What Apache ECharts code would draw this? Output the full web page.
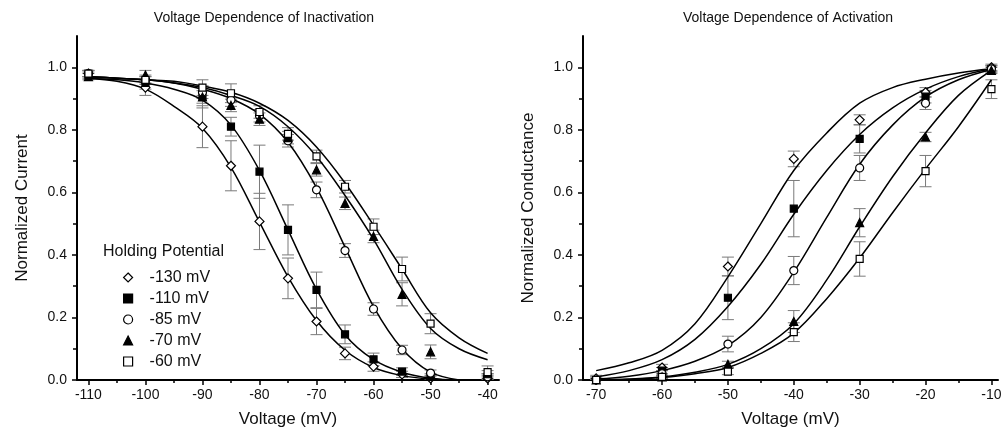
<!DOCTYPE html>
<html>
<head>
<meta charset="utf-8">
<script src="https://cdn.jsdelivr.net/npm/echarts@6/dist/echarts.min.js"></script>
<style>
  html, body { margin: 0; padding: 0; background: #fff; }
  #chart { width: 1005px; height: 435px; }
</style>
</head>
<body>
<div id="chart"></div>
<script>
// legend names (holding potentials)
const holdNames = ['-130 mV', '-110 mV', '-85 mV', '-70 mV', '-60 mV'];

// inactivation data (left panel)
const inactV = [-110, -100, -90, -85, -80, -75, -70, -65, -60, -55, -50, -40];
const inact130 = [0.98, 0.935, 0.81, 0.685, 0.507, 0.325, 0.187, 0.085, 0.043, 0.018, 0.005, 0.005];
const inact130Err = [0.01, 0.025, 0.067, 0.08, 0.09, 0.065, 0.042, 0.02, 0.015, 0.01, 0.01, 0.01];
const inact110 = [0.975, 0.95, 0.905, 0.81, 0.666, 0.48, 0.288, 0.146, 0.066, 0.027, 0.01, 0.01];
const inact110Err = [0.01, 0.02, 0.035, 0.03, 0.085, 0.08, 0.057, 0.03, 0.02, 0.012, 0.01, 0.01];
const inact85 = [0.98, 0.96, 0.92, 0.895, 0.845, 0.765, 0.608, 0.414, 0.227, 0.096, 0.022, 0.01];
const inact85Err = [0.01, 0.015, 0.02, 0.02, 0.02, 0.02, 0.025, 0.022, 0.02, 0.015, 0.01, 0.01];
const inact70 = [0.97, 0.975, 0.905, 0.878, 0.834, 0.775, 0.672, 0.565, 0.459, 0.274, 0.09, 0.02];
const inact70Err = [0.01, 0.015, 0.02, 0.02, 0.02, 0.02, 0.02, 0.02, 0.02, 0.037, 0.022, 0.01];
const inact60 = [0.98, 0.96, 0.935, 0.917, 0.857, 0.787, 0.715, 0.618, 0.49, 0.355, 0.18, 0.025];
const inact60Err = [0.01, 0.01, 0.025, 0.03, 0.02, 0.02, 0.02, 0.02, 0.025, 0.038, 0.032, 0.02];

// fitted curves, every 5 mV from -110
const fitInactV = [-110, -105, -100, -95, -90, -85, -80, -75, -70, -65, -60, -55, -50, -45, -40];
const fitInact130 = [0.965, 0.955, 0.93, 0.875, 0.805, 0.68, 0.505, 0.33, 0.19, 0.095, 0.04, 0.014, 0.003, 0.0];
const fitInact110 = [0.965, 0.96, 0.95, 0.93, 0.895, 0.815, 0.67, 0.48, 0.29, 0.145, 0.065, 0.025, 0.006, 0.0];
const fitInact85 = [0.97, 0.965, 0.96, 0.95, 0.93, 0.9, 0.85, 0.76, 0.615, 0.425, 0.235, 0.1, 0.025, 0.0];
const fitInact70 = [0.97, 0.965, 0.96, 0.95, 0.935, 0.91, 0.875, 0.81, 0.715, 0.59, 0.45, 0.29, 0.165, 0.1, 0.065];
const fitInact60 = [0.97, 0.965, 0.96, 0.955, 0.94, 0.92, 0.885, 0.83, 0.745, 0.63, 0.495, 0.355, 0.215, 0.135, 0.085];

// activation data (right panel)
const actV = [-70, -60, -50, -40, -30, -20, -10];
const act130 = [0.005, 0.04, 0.363, 0.707, 0.832, 0.92, 1.0];
const act130Err = [0.01, 0.01, 0.03, 0.025, 0.016, 0.015, 0.01];
const act110 = [0.0, 0.03, 0.263, 0.548, 0.771, 0.906, 0.995];
const act110Err = [0.01, 0.01, 0.07, 0.09, 0.045, 0.02, 0.01];
const act85 = [0.0, 0.02, 0.115, 0.35, 0.678, 0.885, 0.995];
const act85Err = [0.01, 0.01, 0.025, 0.045, 0.04, 0.02, 0.01];
const act70 = [0.0, 0.01, 0.05, 0.187, 0.503, 0.777, 0.99];
const act70Err = [0.005, 0.005, 0.01, 0.035, 0.045, 0.015, 0.01];
const act60 = [0.0, 0.01, 0.027, 0.153, 0.387, 0.668, 0.93];
const act60Err = [0.005, 0.005, 0.01, 0.03, 0.055, 0.05, 0.03];

// fitted curves, every 5 mV from -70
const fitActV = [-70, -65, -60, -55, -50, -45, -40, -35, -30, -25, -20, -15, -10];
const fitAct130 = [0.03, 0.055, 0.095, 0.18, 0.33, 0.5, 0.67, 0.79, 0.885, 0.935, 0.962, 0.982, 0.995];
const fitAct110 = [0.01, 0.03, 0.065, 0.13, 0.235, 0.37, 0.53, 0.67, 0.785, 0.87, 0.93, 0.97, 0.995];
const fitAct85 = [0.003, 0.012, 0.03, 0.06, 0.11, 0.2, 0.345, 0.52, 0.69, 0.815, 0.905, 0.96, 0.993];
const fitAct70 = [0.0, 0.003, 0.01, 0.025, 0.05, 0.1, 0.18, 0.32, 0.49, 0.65, 0.79, 0.91, 0.99];
const fitAct60 = [0.0, 0.002, 0.008, 0.02, 0.04, 0.085, 0.15, 0.26, 0.39, 0.535, 0.675, 0.81, 0.96];

// tick labels
const inactTicks = [-110, -100, -90, -80, -70, -60, -50, -40];
const inactMinor = [-105, -95, -85, -75, -65, -55, -45];
const actTicks = [-70, -60, -50, -40, -30, -20, -10];
const actMinor = [-65, -55, -45, -35, -25, -15];
const yTicks = [0, 0.2, 0.4, 0.6, 0.8, 1.0];
const yMinor = [0.1, 0.3, 0.5, 0.7, 0.9];

const FONT = '"Liberation Sans", Arial, sans-serif';
const markers = [
  { symbol: 'diamond', size: 9, fill: '#fff' },
  { symbol: 'rect', size: 7, fill: '#000' },
  { symbol: 'circle', size: 8, fill: '#fff' },
  { symbol: 'triangle', size: 8, fill: '#000' },
  { symbol: 'rect', size: 7, fill: '#fff' }
];

var chart = echarts.init(document.getElementById('chart'));

function zip(xs, ys) {
  return ys.map(function (y, i) { return [xs[i], y]; });
}
function zipErr(xs, ys, es) {
  return ys.map(function (y, i) { return [xs[i], y, es[i]]; });
}

function errorBar(params, api) {
  var x = api.value(0), y = api.value(1), e = api.value(2);
  var hi = api.coord([x, y + e]);
  var lo = api.coord([x, Math.max(0, y - e)]);
  var w = 6;
  var st = { stroke: '#7a7a7a', lineWidth: 1 };
  return {
    type: 'group',
    children: [
      { type: 'line', shape: { x1: hi[0], y1: hi[1], x2: lo[0], y2: lo[1] }, style: st },
      { type: 'line', shape: { x1: hi[0] - w, y1: hi[1], x2: hi[0] + w, y2: hi[1] }, style: st },
      { type: 'line', shape: { x1: lo[0] - w, y1: lo[1], x2: lo[0] + w, y2: lo[1] }, style: st }
    ]
  };
}

function panelSeries(axis, xs, sets, errs, fitX, fits) {
  var out = [];
  sets.forEach(function (ys, i) {
    out.push({
      type: 'custom', name: 'err' + axis + i, xAxisIndex: axis, yAxisIndex: axis,
      renderItem: errorBar, data: zipErr(xs, ys, errs[i]), z: 1, clip: true, silent: true
    });
    out.push({
      type: 'line', name: 'fit' + axis + i, xAxisIndex: axis, yAxisIndex: axis,
      data: zip(fitX, fits[i]), showSymbol: false, smooth: 0.35,
      lineStyle: { color: '#000', width: 1.5 }, z: 2, silent: true
    });
    var m = markers[i];
    out.push({
      type: 'scatter', name: holdNames[i], xAxisIndex: axis, yAxisIndex: axis,
      data: zip(xs, ys), symbol: m.symbol, symbolSize: m.size,
      itemStyle: { color: m.fill, borderColor: '#000', borderWidth: 1.2, opacity: 1 }, z: 3
    });
  });
  return out;
}

var series = [].concat(
  panelSeries(0, inactV, [inact130, inact110, inact85, inact70, inact60],
    [inact130Err, inact110Err, inact85Err, inact70Err, inact60Err],
    fitInactV, [fitInact130, fitInact110, fitInact85, fitInact70, fitInact60]),
  panelSeries(1, actV, [act130, act110, act85, act70, act60],
    [act130Err, act110Err, act85Err, act70Err, act60Err],
    fitActV, [fitAct130, fitAct110, fitAct85, fitAct70, fitAct60])
);

var axisLine = { lineStyle: { color: '#000', width: 2 } };
var labelStyle = { color: '#111', fontSize: 14, fontFamily: FONT };
var nameStyle = { color: '#111', fontSize: 17, fontFamily: FONT };

function xMain(grid, min, max, ticks) {
  return {
    type: 'value', gridIndex: grid, min: min, max: max, position: 'bottom',
    axisLine: axisLine,
    axisTick: { customValues: ticks, length: 5, lineStyle: { color: '#000', width: 1.5 } },
    axisLabel: Object.assign({ customValues: ticks, margin: 8 }, labelStyle),
    splitLine: { show: false },
    name: 'Voltage (mV)', nameLocation: 'middle', nameGap: 31, nameTextStyle: nameStyle
  };
}
function xMinor(grid, min, max, ticks) {
  return {
    type: 'value', gridIndex: grid, min: min, max: max, position: 'bottom',
    axisLine: { show: false },
    axisTick: { customValues: ticks, length: 3, lineStyle: { color: '#000', width: 1.5 } },
    axisLabel: { show: false }, splitLine: { show: false }
  };
}
function yMain(grid, name) {
  return {
    type: 'value', gridIndex: grid, min: 0, max: 1.1, position: 'left',
    axisLine: axisLine,
    axisTick: { customValues: yTicks, length: 5, lineStyle: { color: '#000', width: 1.5 } },
    axisLabel: Object.assign({ customValues: yTicks, margin: 10, formatter: function (v) { return v.toFixed(1); } }, labelStyle),
    splitLine: { show: false },
    name: name, nameLocation: 'middle', nameGap: 46, nameTextStyle: nameStyle
  };
}
function yMinorAxis(grid) {
  return {
    type: 'value', gridIndex: grid, min: 0, max: 1.1, position: 'left',
    axisLine: { show: false },
    axisTick: { customValues: yMinor, length: 4, lineStyle: { color: '#000', width: 1.5 } },
    axisLabel: { show: false }, splitLine: { show: false }
  };
}

chart.setOption({
  backgroundColor: '#fff',
  animation: false,
  graphic: [
    { type: 'text', left: null, x: 264, y: 18, style: { text: 'Voltage Dependence of Inactivation', x: 0, y: 0, align: 'center', verticalAlign: 'middle', fill: '#111', font: '14px ' + FONT } },
    { type: 'text', x: 788, y: 18, style: { text: 'Voltage Dependence of Activation', align: 'center', verticalAlign: 'middle', fill: '#111', font: '14px ' + FONT } },
    { type: 'text', x: 103, y: 252, style: { text: 'Holding Potential', align: 'left', verticalAlign: 'middle', fill: '#111', font: '16px ' + FONT } }
  ],
  legend: {
    data: holdNames, orient: 'vertical', left: 118, top: 262,
    itemWidth: 9, itemHeight: 9, itemGap: 0, selectedMode: false,
    itemStyle: { borderColor: '#000', borderWidth: 1.2 },
    textStyle: { color: '#111', fontSize: 16, fontFamily: FONT, lineHeight: 21, padding: [0, 0, 0, 12] }
  },
  grid: [
    { left: 77, top: 36, width: 422, height: 344 },
    { left: 583, top: 36, width: 415, height: 344 }
  ],
  xAxis: [
    xMain(0, -112, -38, inactTicks),
    xMain(1, -72, -9, actTicks),
    xMinor(0, -112, -38, inactMinor),
    xMinor(1, -72, -9, actMinor)
  ],
  yAxis: [
    yMain(0, 'Normalized Current'),
    yMain(1, 'Normalized Conductance'),
    yMinorAxis(0),
    yMinorAxis(1)
  ],
  series: series
});
</script>
</body>
</html>
